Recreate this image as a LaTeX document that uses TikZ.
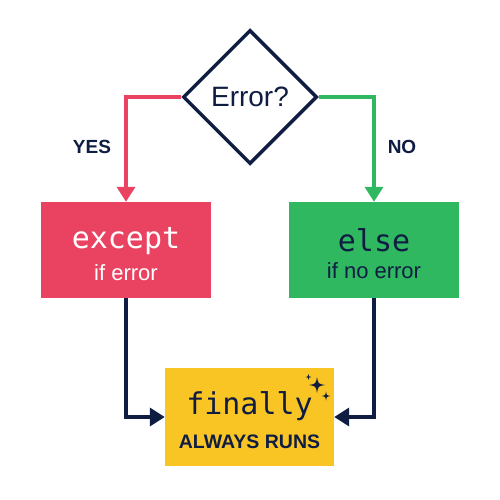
\documentclass[tikz,border=0pt]{standalone}
\usepackage{fontspec}
\setmainfont{Liberation Sans}
\setmonofont{DejaVu Sans Mono}
\usepackage{tikz}
\usetikzlibrary{shapes.geometric}
\usetikzlibrary{arrows.meta}
\definecolor{navy}{RGB}{16,29,66}
\definecolor{errred}{RGB}{234,67,98}
\definecolor{okgreen}{RGB}{48,184,97}
\definecolor{goldbox}{RGB}{249,197,36}
\newcommand{\codefont}{\ttfamily\fontsize{30}{32}\selectfont}
\newcommand{\notefont}{\fontsize{22}{24}\selectfont}
% four-point star: centre x, centre y, radius
\newcommand{\sparkle}[3]{\fill[navy] (#1,#2-#3) .. controls (#1+0.15*#3,#2-0.15*#3) .. (#1+#3,#2) .. controls (#1+0.15*#3,#2+0.15*#3) .. (#1,#2+#3) .. controls (#1-0.15*#3,#2+0.15*#3) .. (#1-#3,#2) .. controls (#1-0.15*#3,#2-0.15*#3) .. cycle;}

\begin{document}
\begin{tikzpicture}[x=1pt, y=-1pt,
      decision/.style={draw=navy, line width=3.5pt, diamond, aspect=1, minimum width=134pt, minimum height=134pt, inner sep=0pt, text=navy, font=\fontsize{28}{30}\selectfont},
      block/.style={rectangle, minimum width=170pt, minimum height=96pt, align=center, inner sep=0pt},
      branch/.style={line width=3.5pt, -{Triangle[width=18pt,length=15pt]}},
      answer/.style={text=navy, font=\bfseries\fontsize{19}{20}\selectfont}
    ]
    \useasboundingbox[fill=white] (0,0) rectangle (500,500);

    \node[decision] (err) at (250,97) {Error?};

    \node[block, fill=errred, text=white] (exc) at (126,250) {{\rule{0pt}{30pt}\codefont except}\\[9pt]{\notefont if error}};
    \node[block, fill=okgreen, text=navy] (els) at (374,250) {{\rule{0pt}{30pt}\codefont else}\\[9pt]{\notefont if no error}};
    \node[block, fill=goldbox, text=navy, minimum width=169pt, minimum height=98pt] (fin) at (249.5,417) {{\rule{0pt}{30pt}\codefont finally}\\[13pt]{\bfseries\fontsize{19.5}{21}\selectfont ALWAYS RUNS}};

    \draw[branch, errred] (err.west) -| (exc.north);
    \draw[branch, okgreen] (err.east) -| (els.north);
    \node[answer] (yes) at (92,147) {YES};
    \node[answer] (no) at (402,147) {NO};

    \draw[branch, navy] (exc.south) |- (fin.west);
    \draw[branch, navy] (els.south) |- (fin.east);

    % sparkles
    \sparkle{317}{385}{8}
    \sparkle{326}{396}{4.5}
    \sparkle{308.5}{377}{2.8}
  \end{tikzpicture}
\end{document}
